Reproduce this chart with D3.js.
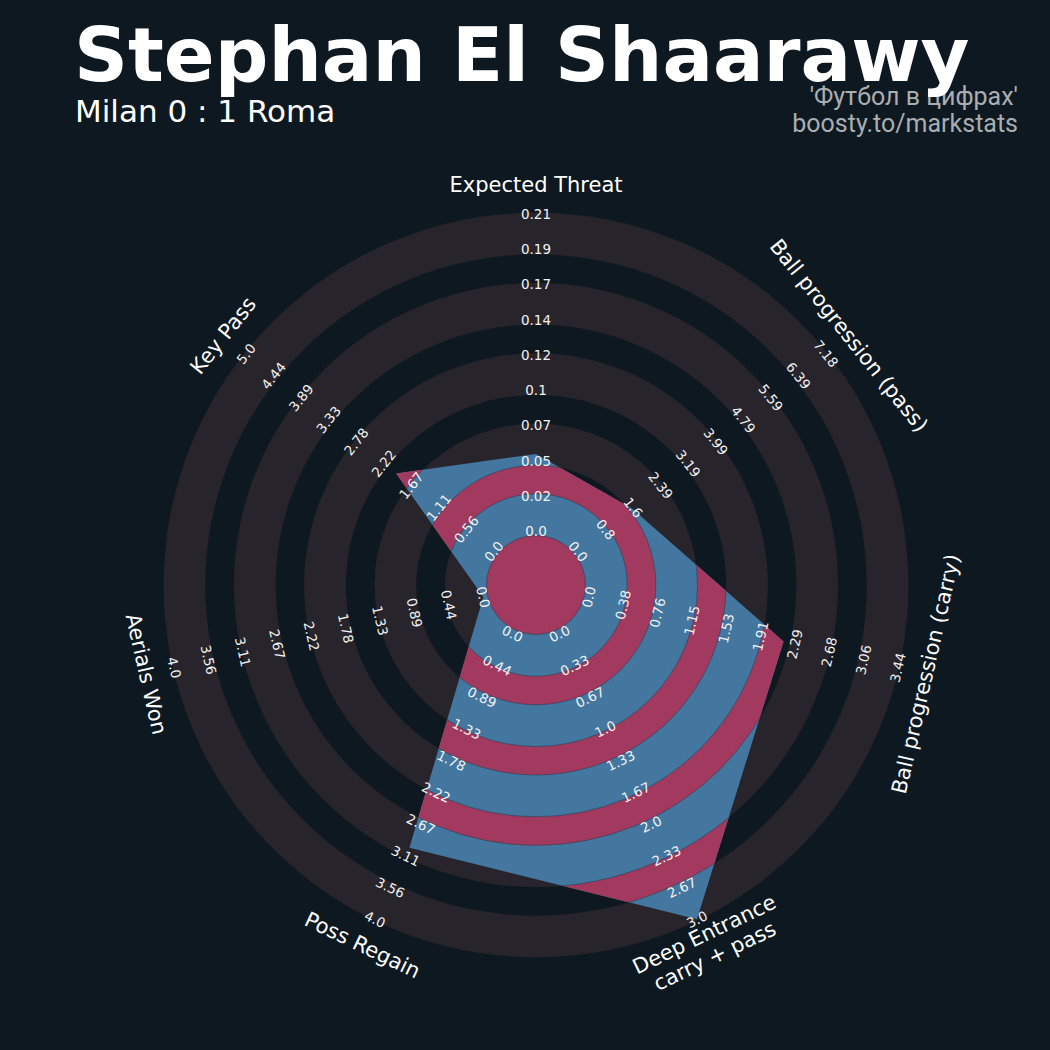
<!DOCTYPE html>
<html><head><meta charset="utf-8">
<script src="https://cdn.jsdelivr.net/npm/d3@7"></script>
<style>html,body{margin:0;padding:0;background:#0e1820;} svg{display:block}</style>
</head><body>
<script>
// ---------- data ----------
const params = ["Expected Threat", "Ball progression (pass)", "Ball progression (carry)",
  "Deep Entrance\ncarry + pass", "Poss Regain", "Aerials Won", "Key Pass"];
const minRange = [0, 0, 0, 0, 0, 0, 0];
const maxRange = [0.214, 7.18, 3.44, 3.0, 4.0, 4.0, 5.0];
const values = [0.052, 1.56, 2.17, 3.0, 3.0, 0.0, 1.97];
const tickET = ["0.0","0.02","0.05","0.07","0.1","0.12","0.14","0.17","0.19","0.21"];
const tickPass = ["0.0","0.8","1.6","2.39","3.19","3.99","4.79","5.59","6.39","7.18"];
const tickCarry = ["0.0","0.38","0.76","1.15","1.53","1.91","2.29","2.68","3.06","3.44"];
const tickDeep = ["0.0","0.33","0.67","1.0","1.33","1.67","2.0","2.33","2.67","3.0"];
const tickPoss = ["0.0","0.44","0.89","1.33","1.78","2.22","2.67","3.11","3.56","4.0"];
const tickAerial = ["0.0","0.44","0.89","1.33","1.78","2.22","2.67","3.11","3.56","4.0"];
const tickKey = ["0.0","0.56","1.11","1.67","2.22","2.78","3.33","3.89","4.44","5.0"];
const tickLabels = [tickET, tickPass, tickCarry, tickDeep, tickPoss, tickAerial, tickKey];
const title = "Stephan El Shaarawy";
const subtitle = "Milan 0 : 1 Roma";
const credits = ["'Футбол в цифрах'", "boosty.to/markstats"];

// ---------- layout ----------
const W = 1050, H = 1050;
const cx = 536, cy = 585;
const BG = "#0e1820", RING = "#28242b", BLUE = "#4377a0", RED = "#a2395e";
const centerR = 49.5, ringW = 41.7, gapW = 28.6, nRings = 5;
const r0 = 54, r1 = 371;

const svg = d3.select("body").append("svg").attr("width", W).attr("height", H);
svg.append("rect").attr("width", W).attr("height", H).attr("fill", BG);

const n = params.length;
const angle = i => i * 2 * Math.PI / n;
const pt = (i, r) => [cx + r * Math.sin(angle(i)), cy - r * Math.cos(angle(i))];
const scales = params.map((p, i) => d3.scaleLinear().domain([minRange[i], maxRange[i]]).range([r0, r1]));
const tickR = d3.scaleLinear().domain([0, 9]).range([r0, r1]);

const g = svg.append("g");
const arc = d3.arc().startAngle(0).endAngle(2 * Math.PI);

// outer (background) rings: grey bands
const bands = d3.range(nRings).map(k => ({inner: centerR + k * (ringW + gapW), outer: centerR + k * (ringW + gapW) + ringW}));
g.selectAll("path.ring").data(bands).join("path").attr("class", "ring")
  .attr("transform", `translate(${cx},${cy})`)
  .attr("d", d => arc({innerRadius: d.inner, outerRadius: d.outer}))
  .attr("fill", RING);

// radar polygon
const poly = values.map((v, i) => pt(i, scales[i](v)));
const line = d3.line().curve(d3.curveLinearClosed);
svg.append("clipPath").attr("id", "radarclip").append("path").attr("d", line(poly));
g.append("path").attr("d", line(poly)).attr("fill", BLUE);

const inner = g.append("g").attr("clip-path", "url(#radarclip)");
inner.append("circle").attr("cx", cx).attr("cy", cy).attr("r", centerR).attr("fill", RED)
  .attr("stroke", "#2c3f55").attr("stroke-width", 0.6);
const gaps = d3.range(nRings - 1).map(k => ({inner: bands[k].outer, outer: bands[k + 1].inner}));
inner.selectAll("path.gap").data(gaps).join("path")
  .attr("transform", `translate(${cx},${cy})`)
  .attr("d", d => arc({innerRadius: d.inner, outerRadius: d.outer}))
  .attr("fill", RED).attr("stroke", "#2c3f55").attr("stroke-width", 0.6);

// rotation helper
function rot(i) {
  let a = angle(i) * 180 / Math.PI;
  if (a > 180) a -= 360;
  if (a > 90) a -= 180;
  else if (a < -90) a += 180;
  return a;
}

// range labels
params.forEach((p, i) => {
  const labs = tickLabels[i];
  g.append("g").selectAll("text").data(labs).join("text")
    .attr("transform", (d, k) => { const [x, y] = pt(i, tickR(k)); return `translate(${x},${y}) rotate(${rot(i)})`; })
    .attr("text-anchor", "middle").attr("dominant-baseline", "central")
    .attr("font-family", "DejaVu Sans").attr("font-size", 13.5).attr("fill", "#f2f2f2")
    .text(d => d);
});

// param labels
params.forEach((p, i) => {
  const [x, y] = pt(i, 400);
  const lines = p.split("\n");
  const t = g.append("text")
    .attr("transform", `translate(${x},${y}) rotate(${rot(i)})`)
    .attr("text-anchor", "middle")
    .attr("font-family", "DejaVu Sans").attr("font-size", 21).attr("fill", "#ffffff");
  const lh = 24;
  lines.forEach((l, j) => {
    t.append("tspan").attr("x", 0).attr("y", (j - (lines.length - 1) / 2) * lh)
      .attr("dominant-baseline", "central").text(l);
  });
});

// credits (under title)
svg.selectAll("text.credit").data(credits).join("text").attr("class", "credit")
  .attr("x", 1018).attr("y", (d, i) => 105 + i * 27)
  .attr("text-anchor", "end").attr("font-family", "Roboto").attr("font-size", 25)
  .attr("fill", "#a9aeb2").text(d => d);

svg.append("text").attr("x", 74).attr("y", 81)
  .attr("font-family", "DejaVu Sans").attr("font-weight", "bold").attr("font-size", 75)
  .attr("fill", "#ffffff").text(title);
svg.append("text").attr("x", 75).attr("y", 122)
  .attr("font-family", "DejaVu Sans").attr("font-size", 31)
  .attr("fill", "#ffffff").text(subtitle);
</script>
</body></html>
